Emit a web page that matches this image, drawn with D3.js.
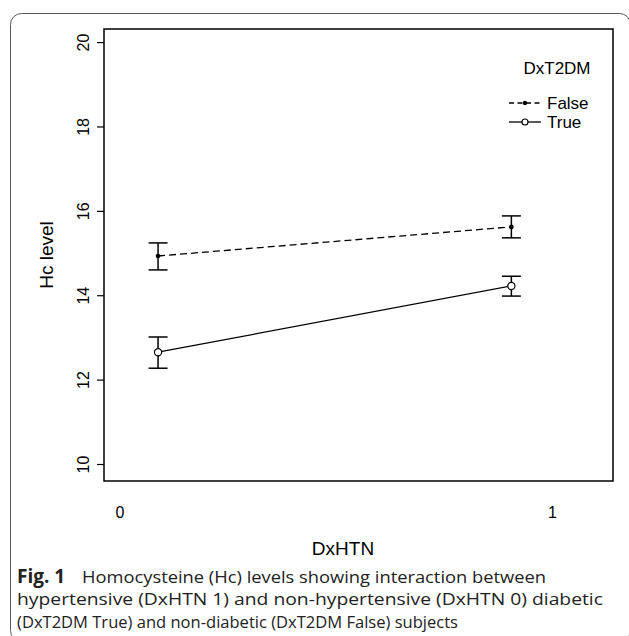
<!DOCTYPE html>
<html>
<head>
<meta charset="utf-8">
<script src="https://cdn.jsdelivr.net/npm/d3@7"></script>
<style>
  body { margin: 0; background: #fff; }
  svg { display: block; }
</style>
</head>
<body>
<svg width="629" height="636"></svg>
<script>
var svg = d3.select('svg');

// data
var dxhtnTicks = [0, 1];
var dxhtnPos = [0.088, 0.905];          // where the two groups are plotted on the x axis
var hcTicks = [10, 12, 14, 16, 18, 20];
var groups = ['False', 'True'];
var hcFalse = [14.93, 15.62];
var hcFalseLo = [14.60, 15.36];
var hcFalseHi = [15.24, 15.88];
var hcTrue = [12.65, 14.22];
var hcTrueLo = [12.27, 13.98];
var hcTrueHi = [13.01, 14.45];

var captionBold = 'Fig. 1';
var captionLines = [
	'Homocysteine (Hc) levels showing interaction between',
	'hypertensive (DxHTN 1) and non-hypertensive (DxHTN 0) diabetic',
	'(DxT2DM True) and non-diabetic (DxT2DM False) subjects'
];

var plot = {l: 104, r: 613, t: 29, b: 481};

var x = d3.scaleLinear()
	.domain([-0.037, 1.14])
	.range([plot.l, plot.r]);

var y = d3.scaleLinear()
	.domain([9.597, 20.31])
	.range([plot.b, plot.t]);

// outer figure frame
svg.append('rect')
	.attr('x', 10.5).attr('y', 13.5)
	.attr('width', 620).attr('height', 628)
	.attr('rx', 11)
	.attr('fill', 'none')
	.attr('stroke', '#5a5a5a')
	.attr('stroke-width', 1);

var font = 'Liberation Sans, Arial, sans-serif';

// y axis
var yAxis = svg.append('g')
	.attr('transform', 'translate(' + plot.l + ',0)')
	.call(d3.axisLeft(y).tickValues(hcTicks).tickSize(7).tickFormat(d3.format('d')));
yAxis.select('.domain').remove();
yAxis.selectAll('line').attr('stroke', '#000').attr('stroke-width', 1.2);
yAxis.selectAll('text')
	.attr('font-family', font)
	.attr('font-size', 16)
	.attr('fill', '#000')
	.attr('text-anchor', 'middle')
	.attr('x', 0)
	.attr('y', 0)
	.attr('dy', '0.35em')
	.attr('transform', 'translate(-21,0) rotate(-90)');

// x axis labels (no tick marks in the original)
svg.selectAll('.xlab')
	.data(dxhtnTicks)
	.enter()
	.append('text')
	.attr('class', 'xlab')
	.attr('x', function(d) { return x(d); })
	.attr('y', plot.b + 31)
	.attr('dy', '0.35em')
	.attr('text-anchor', 'middle')
	.attr('font-family', font)
	.attr('font-size', 16)
	.text(function(d) { return d; });

// plot box
svg.append('rect')
	.attr('x', plot.l).attr('y', plot.t)
	.attr('width', plot.r - plot.l).attr('height', plot.b - plot.t)
	.attr('fill', 'none')
	.attr('stroke', '#000')
	.attr('stroke-width', 1.5);

// axis titles
svg.append('text')
	.attr('transform', 'translate(46,' + ((plot.t + plot.b) / 2) + ') rotate(-90)')
	.attr('text-anchor', 'middle')
	.attr('dy', '0.35em')
	.attr('font-family', font)
	.attr('font-size', 19)
	.text('Hc level');

svg.append('text')
	.attr('x', 343)
	.attr('y', plot.b + 67)
	.attr('dy', '0.35em')
	.attr('text-anchor', 'middle')
	.attr('font-family', font)
	.attr('font-size', 19)
	.text('DxHTN');

// series
var series = [
	{name: groups[0], mean: hcFalse, lo: hcFalseLo, hi: hcFalseHi, dash: '7,4', open: false},
	{name: groups[1], mean: hcTrue, lo: hcTrueLo, hi: hcTrueHi, dash: null, open: true}
];

var line = d3.line()
	.x(function(d, i) { return x(dxhtnPos[i]); })
	.y(function(d) { return y(d); });

var capHalf = 9.5;

series.forEach(function(s) {
	var g = svg.append('g');

	g.append('path')
		.datum(s.mean)
		.attr('d', line)
		.attr('fill', 'none')
		.attr('stroke', '#000')
		.attr('stroke-width', 1.3)
		.attr('stroke-dasharray', s.dash);

	s.mean.forEach(function(m, i) {
		var cx = x(dxhtnPos[i]);
		g.append('line')
			.attr('x1', cx).attr('x2', cx)
			.attr('y1', y(s.lo[i])).attr('y2', y(s.hi[i]))
			.attr('stroke', '#000').attr('stroke-width', 1.5);
		[s.lo[i], s.hi[i]].forEach(function(v) {
			g.append('line')
				.attr('x1', cx - capHalf).attr('x2', cx + capHalf)
				.attr('y1', y(v)).attr('y2', y(v))
				.attr('stroke', '#000').attr('stroke-width', 1.5);
		});
		g.append('circle')
			.attr('cx', cx).attr('cy', y(m))
			.attr('r', s.open ? 3.6 : 2.3)
			.attr('fill', s.open ? '#fff' : '#000')
			.attr('stroke', '#000')
			.attr('stroke-width', s.open ? 1.2 : 0);
	});
});

// legend
var legend = svg.append('g');
legend.append('text')
	.attr('x', 557).attr('y', 68)
	.attr('dy', '0.35em')
	.attr('text-anchor', 'middle')
	.attr('font-family', font)
	.attr('font-size', 17)
	.text('DxT2DM');

series.forEach(function(s, i) {
	var ly = 103 + i * 19;
	legend.append('line')
		.attr('x1', 509).attr('x2', 541)
		.attr('y1', ly).attr('y2', ly)
		.attr('stroke', '#000').attr('stroke-width', 1.3)
		.attr('stroke-dasharray', s.dash ? '5,3.5' : null);
	legend.append('circle')
		.attr('cx', 525).attr('cy', ly)
		.attr('r', s.open ? 3 : 2.2)
		.attr('fill', s.open ? '#fff' : '#000')
		.attr('stroke', '#000')
		.attr('stroke-width', s.open ? 1.1 : 0);
	legend.append('text')
		.attr('x', 547).attr('y', ly)
		.attr('dy', '0.35em')
		.attr('font-family', font)
		.attr('font-size', 17)
		.text(s.name);
});

// caption
var capFont = 'Open Sans, Noto Sans, sans-serif';
var capSize = 17;
var capLeft = 17;
var capTop = 577;
var capStep = 22.5;
var capEnds = [546, 603, 458];   // right ends of the three caption lines

var cap1 = svg.append('text')
	.attr('x', capLeft).attr('y', capTop)
	.attr('dy', '0.35em')
	.attr('font-family', capFont)
	.attr('font-size', capSize)
	.attr('fill', '#222');
cap1.append('tspan').attr('font-weight', 'bold').attr('font-size', 19).text(captionBold);
cap1.append('tspan').attr('x', 82).attr('textLength', capEnds[0] - 82).attr('lengthAdjust', 'spacingAndGlyphs').text(captionLines[0]);

captionLines.slice(1).forEach(function(t, i) {
	svg.append('text')
		.attr('x', capLeft).attr('y', capTop + (i + 1) * capStep)
		.attr('dy', '0.35em')
		.attr('font-family', capFont)
		.attr('font-size', capSize)
		.attr('fill', '#222')
		.attr('textLength', capEnds[i + 1] - capLeft)
		.attr('lengthAdjust', 'spacingAndGlyphs')
		.text(t);
});
</script>
</body>
</html>
